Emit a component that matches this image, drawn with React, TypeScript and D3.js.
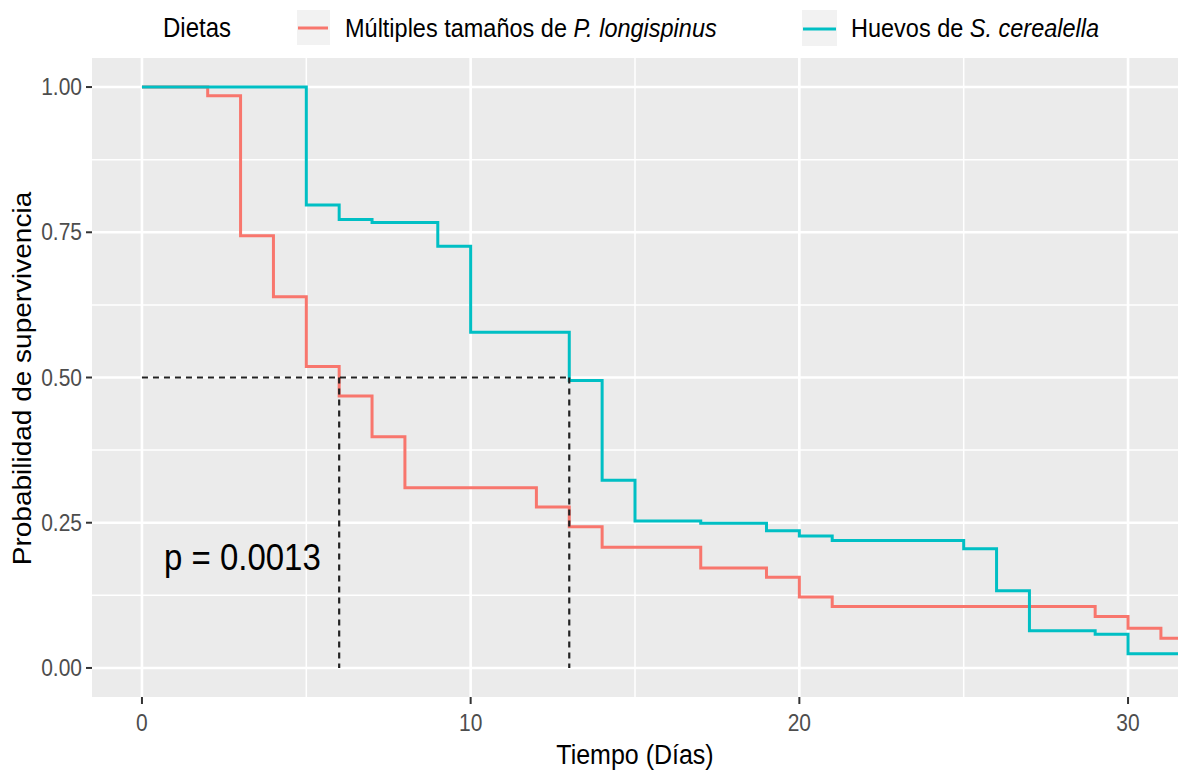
import React from 'react'
import * as d3 from 'd3'

// Kaplan-Meier steps (time in days, survival)
const redTimes = [0, 2, 3, 4, 5, 6, 7, 8, 12, 13, 14, 17, 19, 20, 21, 29, 30, 31]
const redSurv = [1, 0.985, 0.744, 0.639, 0.519, 0.468, 0.398, 0.31, 0.277, 0.243, 0.208, 0.172, 0.156, 0.122, 0.106, 0.0885, 0.0684, 0.051]
const cyanTimes = [0, 5, 6, 7, 9, 10, 13, 14, 15, 17, 19, 20, 21, 25, 26, 27, 29, 30]
const cyanSurv = [1, 0.797, 0.772, 0.767, 0.726, 0.578, 0.495, 0.323, 0.253, 0.249, 0.236, 0.227, 0.2195, 0.205, 0.133, 0.064, 0.058, 0.0245]
const endTime = 32
const medians = [6, 13]
const xTicks = [0, 10, 20, 30]
const xMinor = [5, 15, 25]
const yTicks = [0, 0.25, 0.5, 0.75, 1]
const yMinor = [0.125, 0.375, 0.625, 0.875]
const legendTitle = 'Dietas'
const pValue = 'p = 0.0013'

const W = 1178
const H = 773
const panel = { left: 92, right: 1178, top: 58, bottom: 697 }
const SY = 1.12 // the source picture is stretched a bit vertically
const FONT = '"Liberation Sans", Arial, sans-serif'
const RED = '#F8766D'
const CYAN = '#00BFC4'

const x = d3.scaleLinear().domain([-1.52, 31.52]).range([panel.left, panel.right])
const y = d3.scaleLinear().domain([-0.05, 1.05]).range([panel.bottom, panel.top])

const stepLine = d3.line<[number, number]>()
  .x(d => x(d[0]))
  .y(d => y(d[1]))
  .curve(d3.curveStepAfter)

const toPoints = (times: number[], surv: number[]): [number, number][] => {
  const pts = times.map((t, i) => [t, surv[i]] as [number, number])
  pts.push([endTime, surv[surv.length - 1]])
  return pts
}

const Txt = ({ x, y, size, anchor = 'start', fill = '#000', rotate = false, children }: any) => (
  <text
    transform={rotate
      ? `translate(${x},${y}) rotate(-90) scale(${SY},1)`
      : `translate(${x},${y}) scale(1,${SY})`}
    fontSize={size}
    fontFamily={FONT}
    textAnchor={anchor}
    fill={fill}
  >{children}</text>
)

export default function App() {
  const half = 0.5
  return (
    <svg width={W} height={H} style={{ position: 'absolute', left: 0, top: 0, background: '#fff' }}>
      <defs>
        <clipPath id="panel">
          <rect x={panel.left} y={panel.top} width={panel.right - panel.left} height={panel.bottom - panel.top} />
        </clipPath>
      </defs>
      <rect x={panel.left} y={panel.top} width={panel.right - panel.left} height={panel.bottom - panel.top} fill="#EBEBEB" />
      {/* grid */}
      {yMinor.map(v => (
        <line key={'ym' + v} x1={panel.left} x2={panel.right} y1={y(v)} y2={y(v)} stroke="#fff" strokeWidth={1.5} />
      ))}
      {xMinor.map(v => (
        <line key={'xm' + v} x1={x(v)} x2={x(v)} y1={panel.top} y2={panel.bottom} stroke="#fff" strokeWidth={1.5} />
      ))}
      {yTicks.map(v => (
        <line key={'yg' + v} x1={panel.left} x2={panel.right} y1={y(v)} y2={y(v)} stroke="#fff" strokeWidth={2.6} />
      ))}
      {xTicks.map(v => (
        <line key={'xg' + v} x1={x(v)} x2={x(v)} y1={panel.top} y2={panel.bottom} stroke="#fff" strokeWidth={2.6} />
      ))}

      <g clipPath="url(#panel)">
        <path d={stepLine(toPoints(redTimes, redSurv)) || ''} fill="none" stroke={RED} strokeWidth={3} />
        <path d={stepLine(toPoints(cyanTimes, cyanSurv)) || ''} fill="none" stroke={CYAN} strokeWidth={3} />
        {/* median survival guides */}
        <line x1={x(0)} x2={x(d3.max(medians)!)} y1={y(half)} y2={y(half)} stroke="#222" strokeWidth={2.2} strokeDasharray="6,5" />
        {medians.map(m => (
          <line key={'md' + m} x1={x(m)} x2={x(m)} y1={y(half)} y2={y(0)} stroke="#222" strokeWidth={2.2} strokeDasharray="6,5" />
        ))}
      </g>

      {/* axes */}
      {yTicks.map(v => (
        <g key={'yt' + v}>
          <line x1={panel.left - 6} x2={panel.left} y1={y(v)} y2={y(v)} stroke="#333" strokeWidth={2} />
          <Txt x={82} y={y(v) + 8} size={21} anchor="end" fill="#4D4D4D">{d3.format('.2f')(v)}</Txt>
        </g>
      ))}
      {xTicks.map(v => (
        <g key={'xt' + v}>
          <line x1={x(v)} x2={x(v)} y1={panel.bottom} y2={panel.bottom + 7} stroke="#333" strokeWidth={2} />
          <Txt x={x(v)} y={731} size={21} anchor="middle" fill="#4D4D4D">{String(v)}</Txt>
        </g>
      ))}
      <Txt x={(panel.left + panel.right) / 2} y={764} size={25} anchor="middle">Tiempo (Días)</Txt>
      <Txt x={31} y={(y(0) + y(1)) / 2 + 1} size={25} anchor="middle" rotate>Probabilidad de supervivencia</Txt>

      <Txt x={164} y={570} size={33}>{pValue}</Txt>

      {/* legend */}
      <Txt x={163} y={37} size={24}>{legendTitle}</Txt>
      <rect x={297} y={10} width={33} height={35} fill="#F2F2F2" />
      <line x1={298} x2={328} y1={28} y2={28} stroke={RED} strokeWidth={3} />
      <Txt x={345} y={37} size={23.5}>
        Múltiples tamaños de <tspan fontStyle="italic">P. longispinus</tspan>
      </Txt>
      <rect x={802} y={10} width={35} height={36} fill="#F2F2F2" />
      <line x1={803} x2={836} y1={29} y2={29} stroke={CYAN} strokeWidth={3} />
      <Txt x={851} y={37} size={23.5}>
        Huevos de <tspan fontStyle="italic">S. cerealella</tspan>
      </Txt>
    </svg>
  )
}
